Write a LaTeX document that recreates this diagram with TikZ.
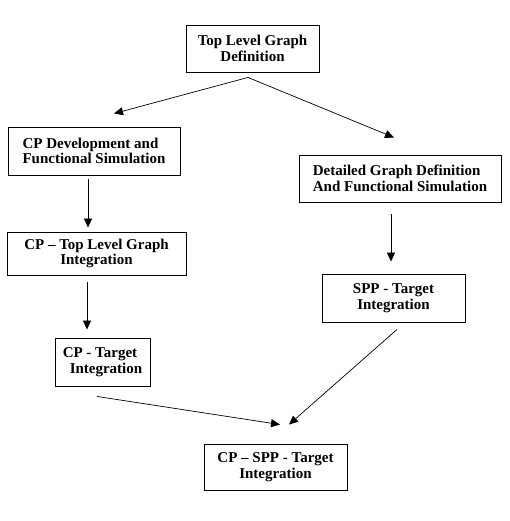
\documentclass[tikz,border=0pt]{standalone}
\usepackage{fontspec}
\setmainfont{Liberation Serif}
\usetikzlibrary{arrows.meta}
\begin{document}
\begin{tikzpicture}[x=1pt,y=-1pt,
  box/.style={draw=black,line width=0.9pt,inner sep=0pt,align=center,
    font=\fontsize{15}{15.5}\selectfont\bfseries},
  lbox/.style={box,align=left},
  arr/.style={line width=0.7pt,-{Triangle[length=9pt,width=8pt]}}]
\useasboundingbox[fill=white] (0,0) rectangle (509,521);
\node[box,minimum width=133pt,minimum height=47pt] (B1) at (252.5,48.5) {Top Level Graph\\Definition};
\node[lbox,minimum width=172pt,minimum height=48pt] (B2) at (94,151) {CP Development and\\Functional Simulation};
\node[lbox,minimum width=202pt,minimum height=47pt] (B3) at (400,178.5) {Detailed Graph Definition\\And Functional Simulation};
\node[box,minimum width=179pt,minimum height=43pt] (B4) at (96.5,253.5) {CP – Top Level Graph\\Integration};
\node[box,minimum width=143pt,minimum height=48pt] (B5) at (393.5,298) {SPP - Target\\Integration};
\node[lbox,minimum width=95pt,minimum height=48pt] (B6) at (102.5,362) {CP - Target\\\hspace{7pt}Integration};
\node[box,minimum width=143pt,minimum height=46pt] (B7) at (275.5,467) {CP – SPP - Target\\Integration};
\draw[arr] ([shift={(-4.5,5)}]B1.south) -- ([shift={(20,-13)}]B2.north);
\draw[arr] ([shift={(-4.5,5)}]B1.south) -- ([shift={(-6,-17)}]B3.north);
\draw[arr] ([shift={(-6,4)}]B2.south) -- ([shift={(-8.5,-4)}]B4.north);
\draw[arr] ([shift={(-9,12)}]B3.south) -- ([shift={(-2.5,-12)}]B5.north);
\draw[arr] ([shift={(-9.5,7)}]B4.south) -- ([shift={(-15.5,-8)}]B6.north);
\draw[arr] ([shift={(-5.5,10)}]B6.south) -- ([shift={(4.5,-19)}]B7.north);
\draw[arr] ([shift={(3.5,7)}]B5.south) -- ([shift={(13.5,-19)}]B7.north);
\end{tikzpicture}
\end{document}
